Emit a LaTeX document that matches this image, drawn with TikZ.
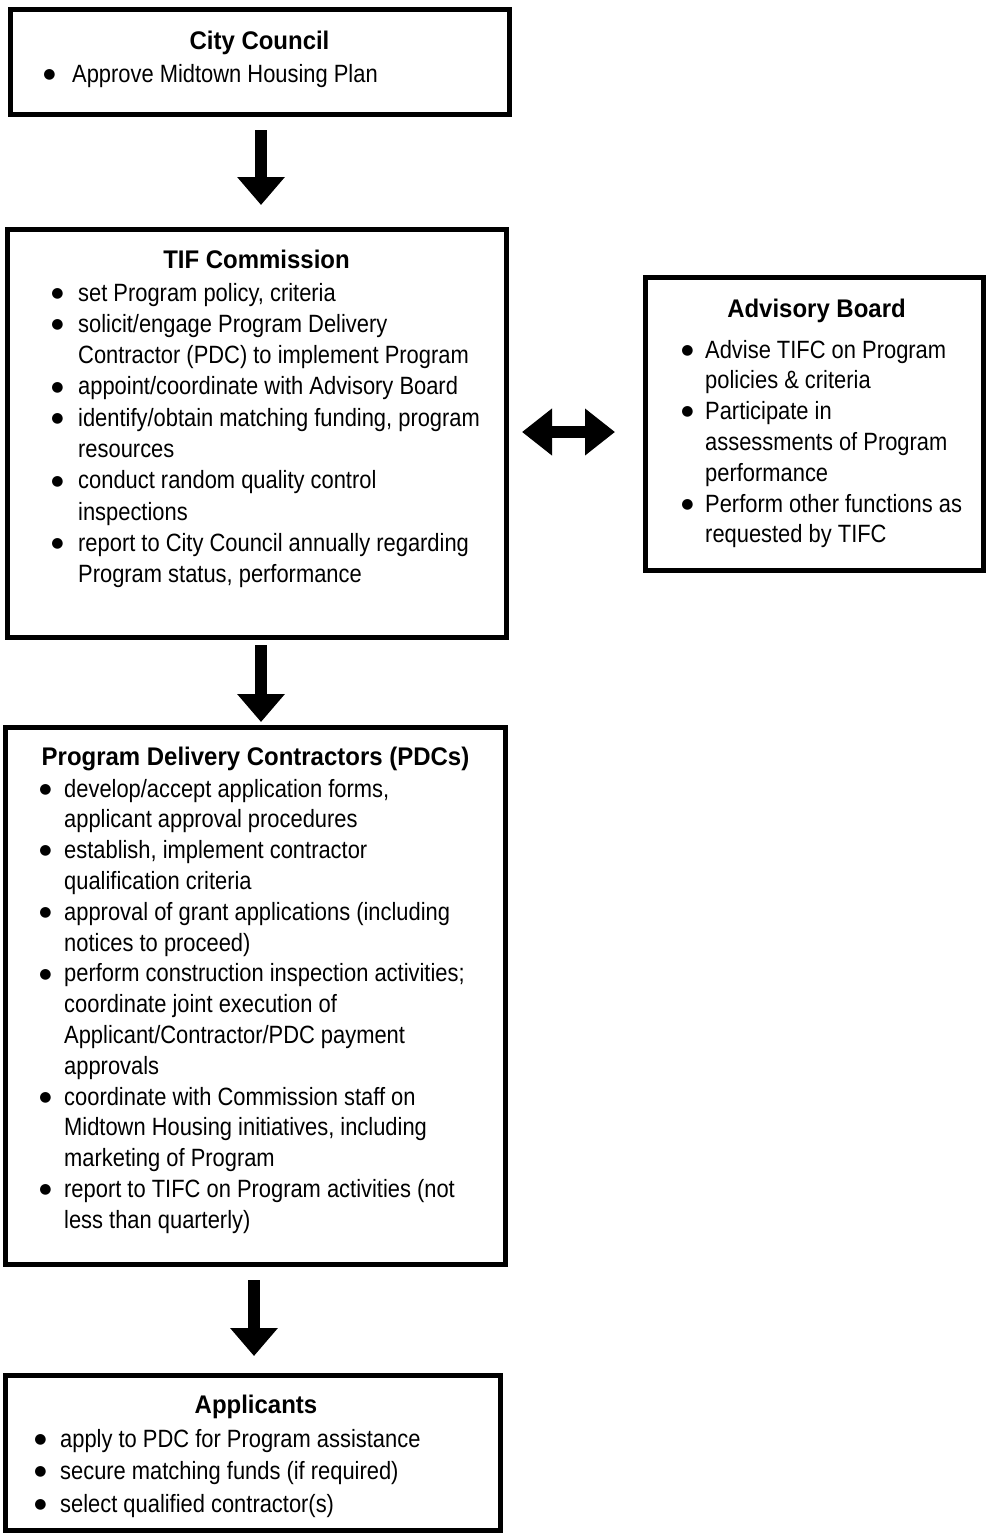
\documentclass[tikz,border=0pt]{standalone}
\usepackage{fontspec}
\setmainfont{Liberation Sans}
\newfontfamily\bodyfont[FakeStretch=0.876]{Liberation Sans}
\newfontfamily\titlefont[FakeStretch=0.94]{Liberation Sans}
\newfontfamily\bulfont{DejaVu Sans}
\usetikzlibrary{arrows.meta}
\newlength\bgap
\newcommand\bul{\llap{\raisebox{3.8pt}{\bulfont\fontsize{14}{14}\selectfont ●}\hspace{\bgap}}}
\tikzset{
  box/.style={draw, line width=5pt, rectangle, inner sep=0pt, outer sep=0pt},
  ttl/.style={anchor=base, inner sep=0pt, font=\titlefont\bfseries\fontsize{25.5}{30}\selectfont},
  body/.style={anchor=base west, inner sep=0pt},
  blk/.style={line width=12pt, -{Triangle[length=28pt,width=46pt]}},
  dbl/.style={line width=12pt, {Triangle[length=30pt,width=45pt]}-{Triangle[length=30pt,width=45pt]}},
}
\begin{document}
\begin{tikzpicture}[x=1pt,y=-1pt]
\fill[white] (0,0) rectangle (991,1534);
\useasboundingbox (0,0) rectangle (991,1534);

% boxes
\node[box, minimum width=499pt, minimum height=105pt] (cc)  at (260,62) {};
\node[box, minimum width=499pt, minimum height=408pt] (tif) at (257,433.5) {};
\node[box, minimum width=338pt, minimum height=293pt] (adv) at (814.5,424) {};
\node[box, minimum width=500pt, minimum height=537pt] (pdc) at (255.5,996) {};
\node[box, minimum width=495pt, minimum height=155pt] (app) at (253,1453) {};

% City Council
\node[ttl] (cct) at (259.5,49) {City Council};
\node[body] (ccb) at (72,82) {\bodyfont\fontsize{25}{31.3}\selectfont\setlength\bgap{16.5pt}%
\begin{tabular}[t]{@{}l@{}}\bul Approve Midtown Housing Plan\end{tabular}};

% TIF Commission
\node[ttl] (tift) at (256.5,268) {TIF Commission};
\node[body] (tifb) at (78,301) {\bodyfont\fontsize{25}{31.3}\selectfont\setlength\bgap{14.5pt}%
\begin{tabular}[t]{@{}l@{}}
\bul set Program policy, criteria\\
\bul solicit/engage Program Delivery\\
Contractor (PDC) to implement Program\\
\bul appoint/coordinate with Advisory Board\\
\bul identify/obtain matching funding, program\\
resources\\
\bul conduct random quality control\\
inspections\\
\bul report to City Council annually regarding\\
Program status, performance
\end{tabular}};

% Advisory Board
\node[ttl] (advt) at (816.5,317) {Advisory Board};
\node[body] (advb) at (705,358) {\bodyfont\fontsize{25}{30.8}\selectfont\setlength\bgap{11.5pt}%
\begin{tabular}[t]{@{}l@{}}
\bul Advise TIFC on Program\\
policies \& criteria\\
\bul Participate in\\
assessments of Program\\
performance\\
\bul Perform other functions as\\
requested by TIFC
\end{tabular}};

% Program Delivery Contractors
\node[ttl] (pdct) at (255.5,765) {Program Delivery Contractors (PDCs)};
\node[body] (pdcb) at (64,797) {\bodyfont\fontsize{25}{30.8}\selectfont\setlength\bgap{12.5pt}%
\begin{tabular}[t]{@{}l@{}}
\bul develop/accept application forms,\\
applicant approval procedures\\
\bul establish, implement contractor\\
qualification criteria\\
\bul approval of grant applications (including\\
notices to proceed)\\
\bul perform construction inspection activities;\\
coordinate joint execution of\\
Applicant/Contractor/PDC payment\\
approvals\\
\bul coordinate with Commission staff on\\
Midtown Housing initiatives, including\\
marketing of Program\\
\bul report to TIFC on Program activities (not\\
less than quarterly)
\end{tabular}};

% Applicants
\node[ttl] (appt) at (256,1413) {Applicants};
\node[body] (appb) at (60,1447) {\bodyfont\fontsize{25}{32.5}\selectfont\setlength\bgap{13.5pt}%
\begin{tabular}[t]{@{}l@{}}
\bul apply to PDC for Program assistance\\
\bul secure matching funds (if required)\\
\bul select qualified contractor(s)
\end{tabular}};

% arrows
\draw[blk] ([xshift=1pt,yshift=-15.5pt]cc.south) -- ([xshift=4pt,yshift=24.5pt]tif.north);
\draw[blk] ([xshift=4pt,yshift=-7.5pt]tif.south) -- ([xshift=5.5pt,yshift=5.5pt]pdc.north);
\draw[blk] ([xshift=-1.5pt,yshift=-15.5pt]pdc.south) -- ([xshift=1pt,yshift=19.5pt]app.north);
\draw[dbl] ([xshift=15.5pt,yshift=1.5pt]tif.east) -- ([xshift=-30.5pt,yshift=-8pt]adv.west);
\end{tikzpicture}
\end{document}
